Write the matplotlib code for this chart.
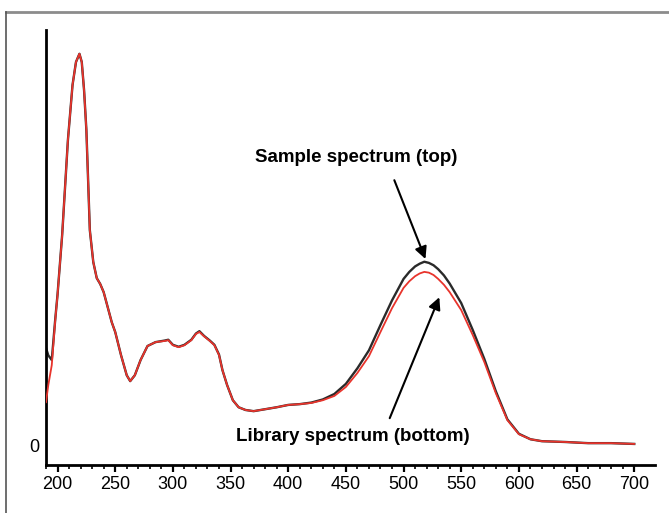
import matplotlib
matplotlib.use("Agg")
import matplotlib.pyplot as plt
from matplotlib.lines import Line2D

# Wavelength (nm)
wavelength = [190, 192, 195, 198, 200, 204, 209, 213, 216, 219, 221, 223, 225, 228,
              231, 234, 237, 240, 243, 247, 250, 255, 260, 263, 267, 272, 278, 285,
              293, 296, 300, 305, 310, 316, 320, 323, 327, 332, 336, 340, 343, 347,
              352, 357, 363, 370, 380, 390, 400, 410, 420, 430, 440, 450, 460, 470,
              480, 490, 500, 505, 510, 514, 518, 522, 526, 530, 535, 540, 550, 560,
              570, 580, 590, 600, 610, 620, 640, 660, 680, 700]

# Library spectrum (bottom, red)
library = [0.110, 0.154, 0.205, 0.320, 0.385, 0.538, 0.782, 0.923, 0.982, 1.003, 0.982,
           0.910, 0.808, 0.551, 0.469, 0.428, 0.413, 0.392, 0.359, 0.315, 0.290, 0.231,
           0.179, 0.164, 0.179, 0.218, 0.254, 0.264, 0.267, 0.269, 0.256, 0.251, 0.256,
           0.269, 0.285, 0.290, 0.279, 0.267, 0.256, 0.231, 0.192, 0.154, 0.115, 0.097,
           0.090, 0.087, 0.092, 0.097, 0.103, 0.105, 0.108, 0.115, 0.126, 0.149, 0.185,
           0.228, 0.290, 0.351, 0.403, 0.420, 0.433, 0.440, 0.444, 0.442, 0.436, 0.426,
           0.411, 0.392, 0.346, 0.282, 0.213, 0.133, 0.064, 0.028, 0.015, 0.010, 0.008,
           0.005, 0.005, 0.003]

# Sample spectrum (top, black)
sample = [0.249, 0.230, 0.218, 0.322, 0.386, 0.538, 0.782, 0.923, 0.982, 1.003, 0.982,
          0.910, 0.808, 0.551, 0.469, 0.428, 0.413, 0.392, 0.359, 0.315, 0.290, 0.231,
          0.179, 0.164, 0.179, 0.218, 0.254, 0.264, 0.268, 0.270, 0.257, 0.252, 0.257,
          0.270, 0.286, 0.292, 0.280, 0.268, 0.257, 0.232, 0.192, 0.154, 0.115, 0.097,
          0.090, 0.087, 0.092, 0.097, 0.103, 0.105, 0.109, 0.117, 0.131, 0.157, 0.197,
          0.243, 0.308, 0.371, 0.426, 0.444, 0.458, 0.465, 0.470, 0.467, 0.461, 0.451,
          0.435, 0.414, 0.364, 0.295, 0.221, 0.138, 0.066, 0.029, 0.015, 0.010, 0.008,
          0.005, 0.005, 0.003]

x_major = [200, 250, 300, 350, 400, 450, 500, 550, 600, 650, 700]

plt.rcParams['font.family'] = ['Liberation Sans', 'DejaVu Sans']

fig = plt.figure(figsize=(6.69, 5.13), dpi=100)
ax = fig.add_axes([46/669, 48/513, (655-46)/669, (465-30)/513])

ax.plot(wavelength, sample, color='#2a2a2a', lw=1.7, zorder=2)
ax.plot(wavelength, library, color='#e8342c', lw=1.3, zorder=3)

ax.set_xlim(190, 718)
ax.set_ylim(-0.051, 1.064)

for s in ['top', 'right']:
    ax.spines[s].set_visible(False)
for s in ['left', 'bottom']:
    ax.spines[s].set_linewidth(2.0)
    ax.spines[s].set_color('black')

ax.set_xticks(x_major)
ax.set_xticks(list(range(190, 710, 10)), minor=True)
ax.tick_params(axis='x', which='major', direction='out', length=5, width=1.6,
               labelsize=13, pad=3)
ax.tick_params(axis='x', which='minor', direction='out', length=3, width=1.2)
ax.set_yticks([0])
ax.set_yticklabels(['0'])
ax.tick_params(axis='y', length=0, labelsize=13, pad=5)

ax.text(459, 0.736, 'Sample spectrum (top)', ha='center', va='center',
        fontsize=13.5, fontweight='bold')
ax.text(456, 0.023, 'Library spectrum (bottom)', ha='center', va='center',
        fontsize=13.5, fontweight='bold')

arrow = dict(arrowstyle='-|>', color='black', lw=1.5, mutation_scale=18,
             shrinkA=0, shrinkB=0)
ax.annotate('', xy=(519, 0.477), xytext=(492, 0.679), arrowprops=arrow)
ax.annotate('', xy=(531, 0.379), xytext=(488, 0.069), arrowprops=arrow)

# grey frame (top and left edges)
fig.add_artist(Line2D([6/669, 1.0], [1 - 11.5/513, 1 - 11.5/513], color='#8c8c8c',
                      lw=2.0, transform=fig.transFigure))
fig.add_artist(Line2D([6.5/669, 6.5/669], [0, 1 - 11.5/513], color='#555555',
                      lw=1.2, transform=fig.transFigure))

fig.savefig('out.png', dpi=100)
